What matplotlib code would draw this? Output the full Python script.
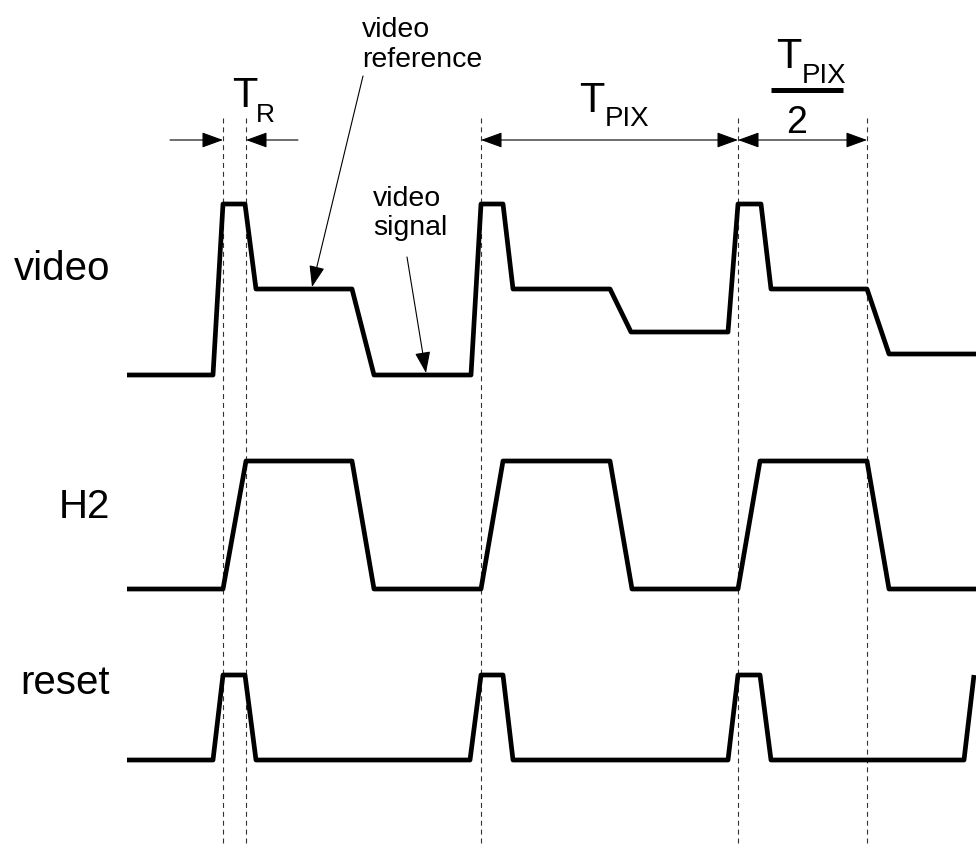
import matplotlib
matplotlib.use('Agg')
import matplotlib.pyplot as plt

plt.rcParams['font.family'] = ['Liberation Sans', 'DejaVu Sans']

# waveforms: time (horizontal units) and level (vertical units, grows downward)
video_t = [127, 213, 223, 245, 256, 352, 374, 471, 481, 503, 513, 610, 631, 728, 738, 761, 771, 867, 889, 976]
video_y = [375, 375, 204, 204, 289, 289, 375, 375, 204, 204, 289, 289, 332, 332, 204, 204, 289, 289, 354, 354]

h2_t = [127, 223, 246, 352, 374, 481, 503, 610, 632, 738, 760, 867, 889, 976]
h2_y = [589, 589, 461, 461, 589, 589, 461, 461, 589, 589, 461, 461, 589, 589]

reset_t = [127, 213, 223, 245, 256, 470, 481, 503, 513, 728, 738, 760, 771, 964, 974]
reset_y = [760, 760, 675, 675, 760, 760, 675, 675, 760, 760, 675, 675, 760, 760, 675]

# timing markers
marker_t = [223, 246, 481, 738, 867]
marker_top = 118
arrow_y = 140

signal_names = ['video', 'H2', 'reset']
signal_label_y = [280, 518, 694]

fig = plt.figure(figsize=(9.76, 8.44), dpi=100)
ax = fig.add_axes([0, 0, 1, 1])
ax.set_xlim(0, 976)
ax.set_ylim(844, 0)
ax.axis('off')

# dashed timing markers
for t in marker_t:
    ax.plot([t, t], [marker_top, 844], color='#333333', lw=0.8,
            linestyle=(0, (4.5, 3.5)))

# waveforms
for t, y in [(video_t, video_y), (h2_t, h2_y), (reset_t, reset_y)]:
    ax.plot(t, y, color='black', lw=3.4, solid_joinstyle='round',
            solid_capstyle='butt')

# signal names
for name, y in zip(signal_names, signal_label_y):
    ax.text(110, y, name, fontsize=29, ha='right', va='baseline')

head = '-|>,head_length=0.55,head_width=0.2'
dhead = '<|-|>,head_length=0.55,head_width=0.2'
aprops = dict(arrowstyle=head, color='black', lw=0.8, shrinkA=0, shrinkB=0,
              mutation_scale=24)
dprops = dict(arrowstyle=dhead, color='black', lw=0.8, shrinkA=0, shrinkB=0,
              mutation_scale=24)

# T_R
ax.annotate('', xy=(marker_t[0], arrow_y), xytext=(170, arrow_y), arrowprops=aprops)
ax.annotate('', xy=(marker_t[1], arrow_y), xytext=(298, arrow_y), arrowprops=aprops)
ax.text(232, 107, 'T', fontsize=30, ha='left', va='baseline')
ax.text(256, 122, 'R', fontsize=19, ha='left', va='baseline')

# T_PIX
ax.annotate('', xy=(marker_t[2], arrow_y), xytext=(marker_t[3], arrow_y), arrowprops=dprops)
ax.text(579, 112, 'T', fontsize=30, ha='left', va='baseline')
ax.text(605, 126, 'PIX', fontsize=20, ha='left', va='baseline')

# T_PIX / 2
ax.annotate('', xy=(marker_t[3], arrow_y), xytext=(marker_t[4], arrow_y), arrowprops=dprops)
ax.text(776, 68, 'T', fontsize=30, ha='left', va='baseline')
ax.text(802, 83, 'PIX', fontsize=20, ha='left', va='baseline')
ax.plot([771, 843], [90, 90], color='black', lw=3.6, solid_capstyle='butt')
ax.text(797, 133, '2', fontsize=27, ha='center', va='baseline')

# callouts
ax.text(362, 67, 'video\nreference', fontsize=20.5, ha='left', va='baseline',
        linespacing=1.2)
ax.annotate('', xy=(312, 287), xytext=(363, 76), arrowprops=aprops)

ax.text(373, 235, 'video\nsignal', fontsize=20.5, ha='left', va='baseline',
        linespacing=1.15)
ax.annotate('', xy=(426, 373), xytext=(407, 257), arrowprops=aprops)

fig.savefig('out.png', dpi=100)
